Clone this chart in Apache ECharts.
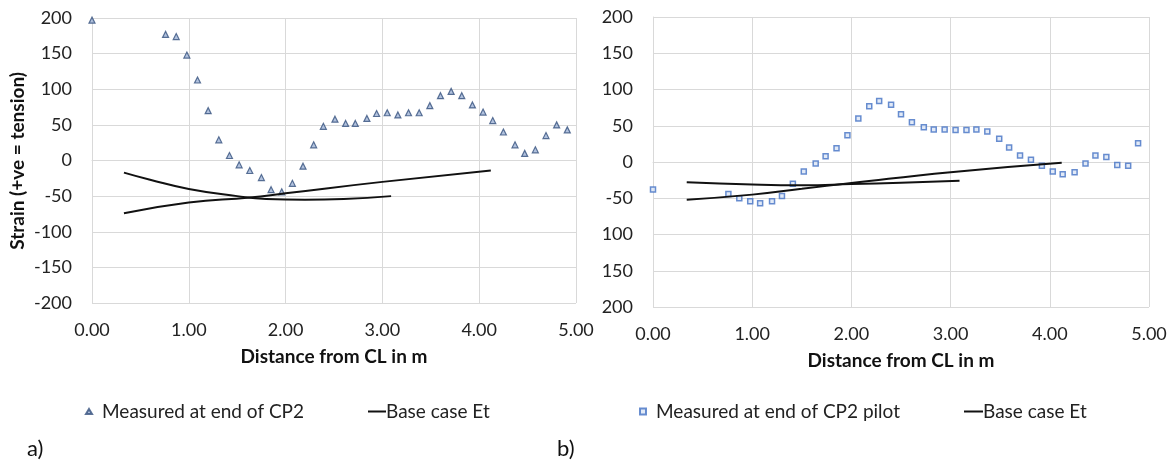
<!DOCTYPE html>
<html lang="en">
<head>
    <meta charset="UTF-8">
    <title>Strain vs distance</title>
    <script src="https://cdn.jsdelivr.net/npm/echarts@6.0.0/dist/echarts.min.js"></script>
    <style>
        html, body { margin: 0; padding: 0; background: #fff; }
        #main { width: 1173px; height: 464px; }
    </style>
</head>
<body>
<div id="main"></div>
<script>
    // a) measured at end of CP2 (x in m, strain)
    var measuredA = [
        [0.00, 197], [0.76, 177], [0.87, 174], [0.98, 148], [1.09, 113], [1.20, 70],
        [1.31, 29], [1.42, 7], [1.52, -6], [1.63, -14], [1.75, -24], [1.85, -41],
        [1.96, -44], [2.07, -32], [2.18, -8], [2.29, 22], [2.39, 48], [2.51, 58],
        [2.62, 52], [2.72, 52], [2.84, 59], [2.94, 66], [3.05, 67], [3.16, 64],
        [3.27, 67], [3.38, 67], [3.49, 77], [3.60, 91], [3.71, 97], [3.82, 91],
        [3.93, 78], [4.04, 68], [4.14, 56], [4.25, 40], [4.37, 22], [4.47, 10],
        [4.58, 15], [4.69, 35], [4.80, 50], [4.91, 43]
    ];
    var baseA1 = [[0.33, -17], [0.6, -27], [1.0, -40], [1.5, -50], [1.8, -54], [2.2, -55], [2.6, -54], [3.09, -50]];
    var baseA2 = [[0.33, -74], [1.0, -59], [1.63, -52], [2.0, -46], [3.0, -30], [4.12, -14]];

    // b) measured at end of CP2 pilot
    var measuredB = [
        [0.00, -38], [0.76, -44], [0.87, -50], [0.98, -54], [1.08, -57], [1.20, -54],
        [1.30, -47], [1.41, -30], [1.52, -13], [1.64, -2], [1.74, 8], [1.85, 19],
        [1.96, 37], [2.07, 60], [2.18, 77], [2.28, 84], [2.40, 79], [2.50, 66],
        [2.61, 55], [2.73, 48], [2.83, 45], [2.94, 45], [3.05, 44], [3.16, 44],
        [3.26, 45], [3.37, 42], [3.49, 32], [3.59, 20], [3.70, 9], [3.81, 3],
        [3.92, -5], [4.03, -13], [4.13, -17], [4.25, -14], [4.36, -2], [4.46, 9],
        [4.57, 7], [4.68, -4], [4.79, -5], [4.89, 26]
    ];
    var baseB1 = [[0.34, -28], [1.0, -31], [1.5, -32], [2.0, -30.5], [2.5, -28.5], [3.09, -26]];
    var baseB2 = [[0.34, -52], [1.0, -45], [1.5, -37], [2.0, -29], [3.0, -14], [4.12, -1]];

    // tick labels of the b) strain axis as printed
    var yTicksB = ['-200', '-150', '-100', '-50', '0', '50', '100', '150', '200'];
    var yLabelsB = ['200', '150', '100', '-50', '0', '50', '100', '150', '200'];

    var font = 'Lato, "Liberation Sans", sans-serif';
    var gridColor = '#d9d9d9';

    function xAxisOf(idx, gap) {
        return {
            gridIndex: idx, type: 'value', min: 0, max: 5, interval: 1,
            name: 'Distance from CL in m', nameLocation: 'middle', nameGap: gap,
            nameTextStyle: { fontFamily: font, fontSize: 19, fontWeight: 'bold', color: '#111' },
            axisLine: { lineStyle: { color: gridColor } },
            axisTick: { show: false },
            splitLine: { lineStyle: { color: gridColor } },
            axisLabel: {
                fontFamily: font, fontSize: 18, color: '#222', margin: 18,
                formatter: function (v) { return v.toFixed(2); }
            }
        };
    }
    function yAxisOf(idx, fmt) {
        return {
            gridIndex: idx, type: 'value', min: -200, max: 200, interval: 50,
            axisLine: { show: true, lineStyle: { color: gridColor } },
            axisTick: { show: false },
            splitLine: { lineStyle: { color: gridColor } },
            axisLabel: { fontFamily: font, fontSize: 18, color: '#222', margin: 20, formatter: fmt }
        };
    }
    function baseLine(idx, data) {
        return {
            name: 'Base case Et', type: 'line', xAxisIndex: idx, yAxisIndex: idx,
            data: data, smooth: true, showSymbol: false, symbol: 'none',
            lineStyle: { color: '#111', width: 2 }, itemStyle: { color: '#111' }
        };
    }
    function legendOf(name, left, icon, w, h, pad) {
        return {
            data: [{ name: name, icon: icon }], left: left, top: 397,
            itemWidth: w, itemHeight: h, itemGap: 4,
            textStyle: { fontFamily: font, fontSize: 19, color: '#222', padding: [0, 0, 0, pad] }
        };
    }

    var myChart = echarts.init(document.getElementById('main'));
    myChart.setOption({
        animation: false,
        grid: [
            { left: 92, top: 18, width: 484, height: 285 },
            { left: 653, top: 17, width: 496, height: 290 }
        ],
        xAxis: [xAxisOf(0, 44), xAxisOf(1, 44)],
        yAxis: [
            yAxisOf(0, null),
            yAxisOf(1, function (v) { return yLabelsB[yTicksB.indexOf(String(v))]; })
        ],
        legend: [
            legendOf('Measured at end of CP2', 80, 'triangle', 6, 5, 5),
            legendOf('Base case Et', 363, 'rect', 18, 2, -5),
            legendOf('Measured at end of CP2 pilot', 634, 'rect', 6, 6, 5),
            legendOf('Base case Et', 959, 'rect', 19, 2, -5)
        ],
        graphic: [
            { type: 'text', left: 8, top: 72, rotation: Math.PI / 2, originX: 0, originY: 0,
              style: { text: 'Strain (+ve = tension)', fontFamily: font, fontSize: 19, fontWeight: 'bold', fill: '#111' } },
            { type: 'text', x: 27, y: 438, style: { text: 'a)', fontFamily: font, fontSize: 22, fill: '#111' } },
            { type: 'text', x: 557, y: 438, style: { text: 'b)', fontFamily: font, fontSize: 22, fill: '#111' } }
        ],
        series: [
            {
                name: 'Measured at end of CP2', type: 'scatter', xAxisIndex: 0, yAxisIndex: 0,
                data: measuredA, symbol: 'triangle', symbolSize: 6,
                itemStyle: { color: '#9fb3d6', borderColor: '#34507d', borderWidth: 1.2 }
            },
            baseLine(0, baseA1),
            baseLine(0, baseA2),
            {
                name: 'Measured at end of CP2 pilot', type: 'scatter', xAxisIndex: 1, yAxisIndex: 1,
                data: measuredB, symbol: 'rect', symbolSize: 5,
                itemStyle: { color: '#dbe5f5', borderColor: '#4472c4', borderWidth: 1.5 }
            },
            baseLine(1, baseB1),
            baseLine(1, baseB2)
        ]
    });
</script>
</body>
</html>
